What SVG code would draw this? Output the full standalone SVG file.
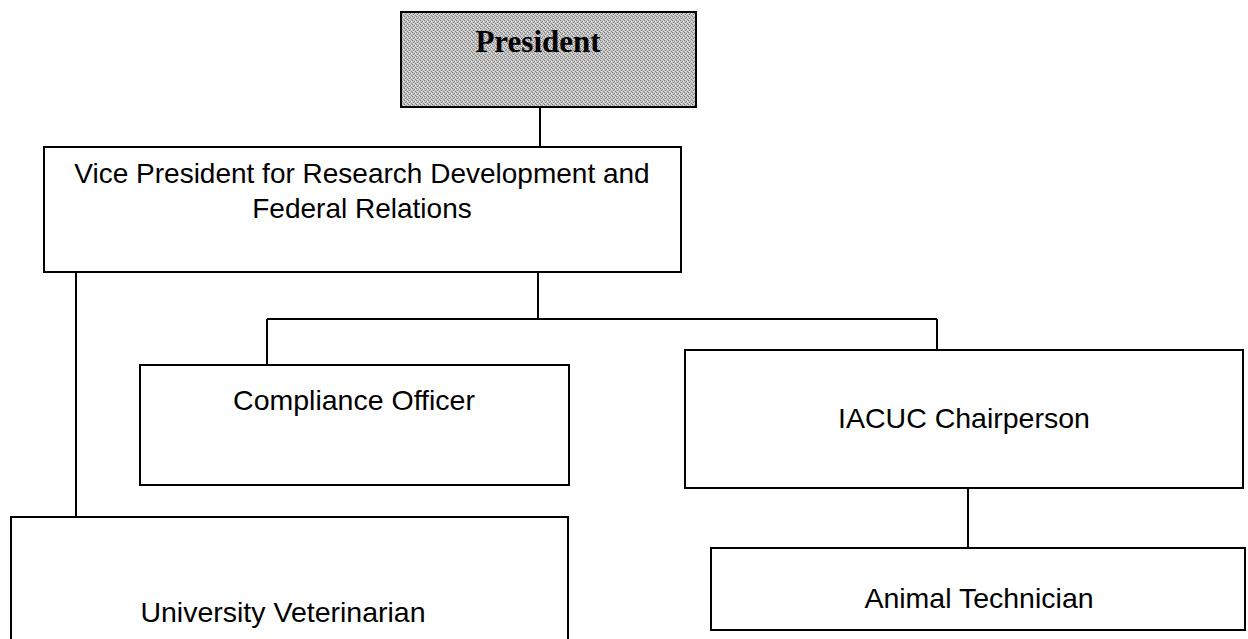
<svg xmlns="http://www.w3.org/2000/svg" width="1248" height="639" viewBox="0 0 1248 639">
<defs>
<pattern id="halftone" width="4" height="4" patternUnits="userSpaceOnUse">
<rect width="4" height="4" fill="#c4c4c4"/>
<rect x="0" y="0" width="1" height="1" fill="#7a7a7a"/>
<rect x="2" y="1" width="1" height="1" fill="#8a8a8a"/>
<rect x="1" y="2" width="1" height="1" fill="#7a7a7a"/>
<rect x="3" y="3" width="1" height="1" fill="#8a8a8a"/>
<rect x="3" y="1" width="1" height="1" fill="#e6e6e6"/>
<rect x="1" y="3" width="1" height="1" fill="#e6e6e6"/>
</pattern>
</defs>
<style>
.box{fill:#fff;stroke:#000;stroke-width:2}
.pres{fill:url(#halftone);stroke:#000;stroke-width:2}
.lbl{font-family:"Liberation Sans",Arial,sans-serif;font-size:28.5px;fill:#000;text-anchor:middle}
.vp{font-size:28px}
.ptxt{font-family:"Liberation Serif","Times New Roman",serif;font-size:31px;font-weight:bold;fill:#000;text-anchor:middle}
.con{stroke:#000;stroke-width:2;fill:none}
</style>
<rect width="1248" height="639" fill="#fff"/>
<g id="connectors">
<path class="con" d="M540 107V147"/>
<path class="con" d="M538 272V319M267 319H937M267 319V365M937 319V350"/>
<path class="con" d="M76 272V517"/>
<path class="con" d="M968 488V548"/>
</g>
<g id="president">
<rect class="pres" x="401" y="12" width="295" height="95"/>
<text class="ptxt" x="538" y="52">President</text>
</g>
<g id="vp">
<rect class="box" x="44" y="147" width="637" height="125"/>
<text class="lbl vp" x="362" y="183">Vice President for Research Development and</text>
<text class="lbl vp" x="362" y="218">Federal Relations</text>
</g>
<g id="compliance">
<rect class="box" x="140" y="365" width="429" height="120"/>
<text class="lbl" x="354" y="410">Compliance Officer</text>
</g>
<g id="iacuc">
<rect class="box" x="685" y="350" width="558" height="138"/>
<text class="lbl" x="964" y="428">IACUC Chairperson</text>
</g>
<g id="animal">
<rect class="box" x="711" y="548" width="534" height="82"/>
<text class="lbl" x="979" y="608">Animal Technician</text>
</g>
<g id="vet">
<rect class="box" x="11" y="517" width="557" height="140"/>
<text class="lbl" x="283" y="622">University Veterinarian</text>
</g>
</svg>
